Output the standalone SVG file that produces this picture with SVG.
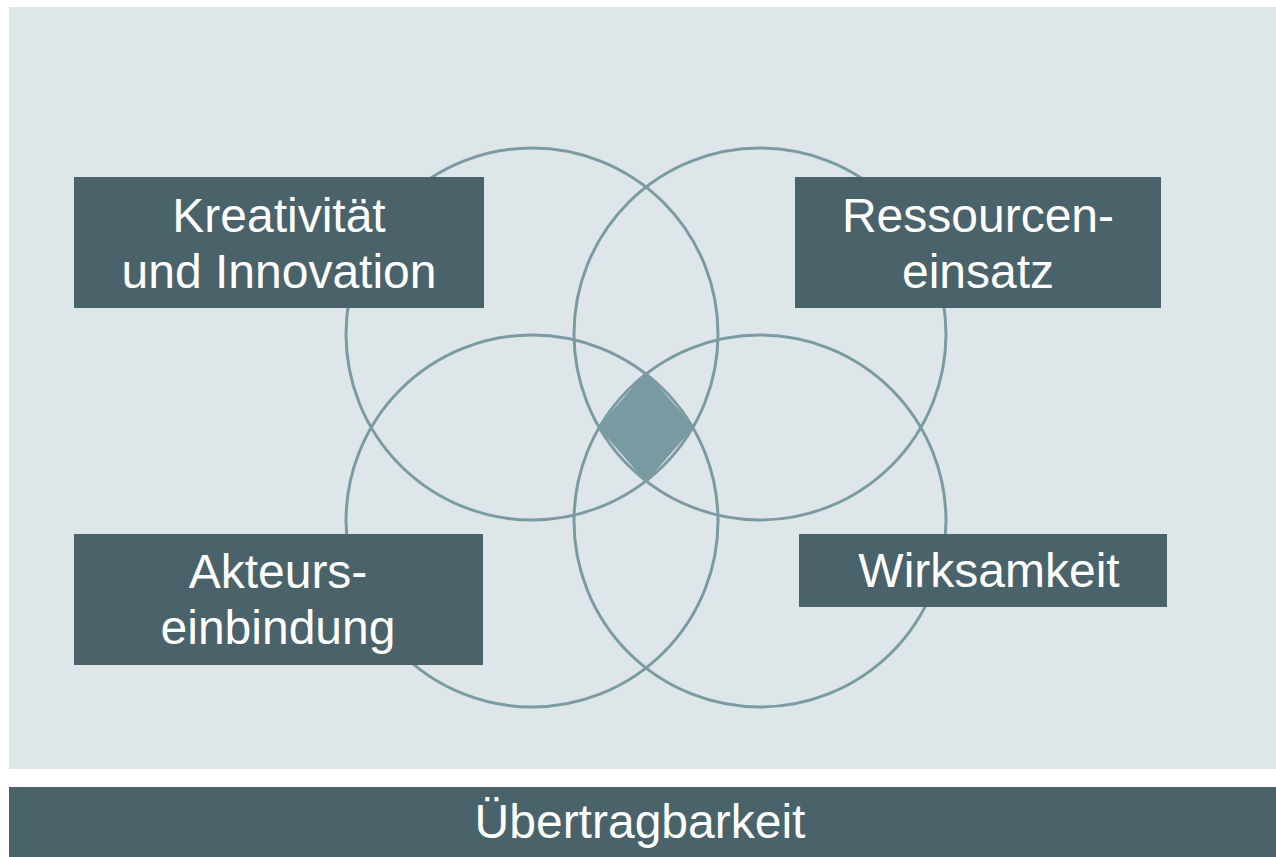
<svg xmlns="http://www.w3.org/2000/svg" width="1276" height="857" viewBox="0 0 1276 857">
  <style>
    .box { fill: #4a636b; }
    .ring { fill: none; stroke: #7b9ba3; stroke-width: 3; }
    .lbl { font-family: "Liberation Sans", Arial, sans-serif; font-size: 48px; fill: #ffffff; text-anchor: middle; }
  </style>
  <rect x="0" y="0" width="1276" height="857" fill="#ffffff"/>
  <rect x="9" y="7" width="1267" height="762" fill="#dfe6e9"/>
  <g id="center-overlap">
    <polygon points="646,372 694,427 646,482 598,427" fill="#7a9aa2"/>
  </g>
  <g id="connectors">
    <circle class="ring" cx="532" cy="334" r="186"/>
    <circle class="ring" cx="760" cy="334" r="186"/>
    <circle class="ring" cx="532" cy="521" r="186"/>
    <circle class="ring" cx="760" cy="521" r="186"/>
  </g>
  <g id="kreativitaet">
    <rect class="box" x="74" y="177" width="410" height="131"/>
    <text class="lbl" x="279" y="232">Kreativität</text>
    <text class="lbl" x="279" y="288">und Innovation</text>
  </g>
  <g id="ressourceneinsatz">
    <rect class="box" x="795" y="177" width="366" height="131"/>
    <text class="lbl" x="978" y="232">Ressourcen-</text>
    <text class="lbl" x="978" y="288">einsatz</text>
  </g>
  <g id="akteurseinbindung">
    <rect class="box" x="74" y="534" width="409" height="131"/>
    <text class="lbl" x="278" y="588">Akteurs-</text>
    <text class="lbl" x="278" y="644">einbindung</text>
  </g>
  <g id="wirksamkeit">
    <rect class="box" x="799" y="534" width="368" height="73"/>
    <text class="lbl" x="989" y="587">Wirksamkeit</text>
  </g>
  <g id="uebertragbarkeit">
    <rect class="box" x="9" y="787" width="1267" height="70"/>
    <text class="lbl" x="640" y="838">Übertragbarkeit</text>
  </g>
</svg>
